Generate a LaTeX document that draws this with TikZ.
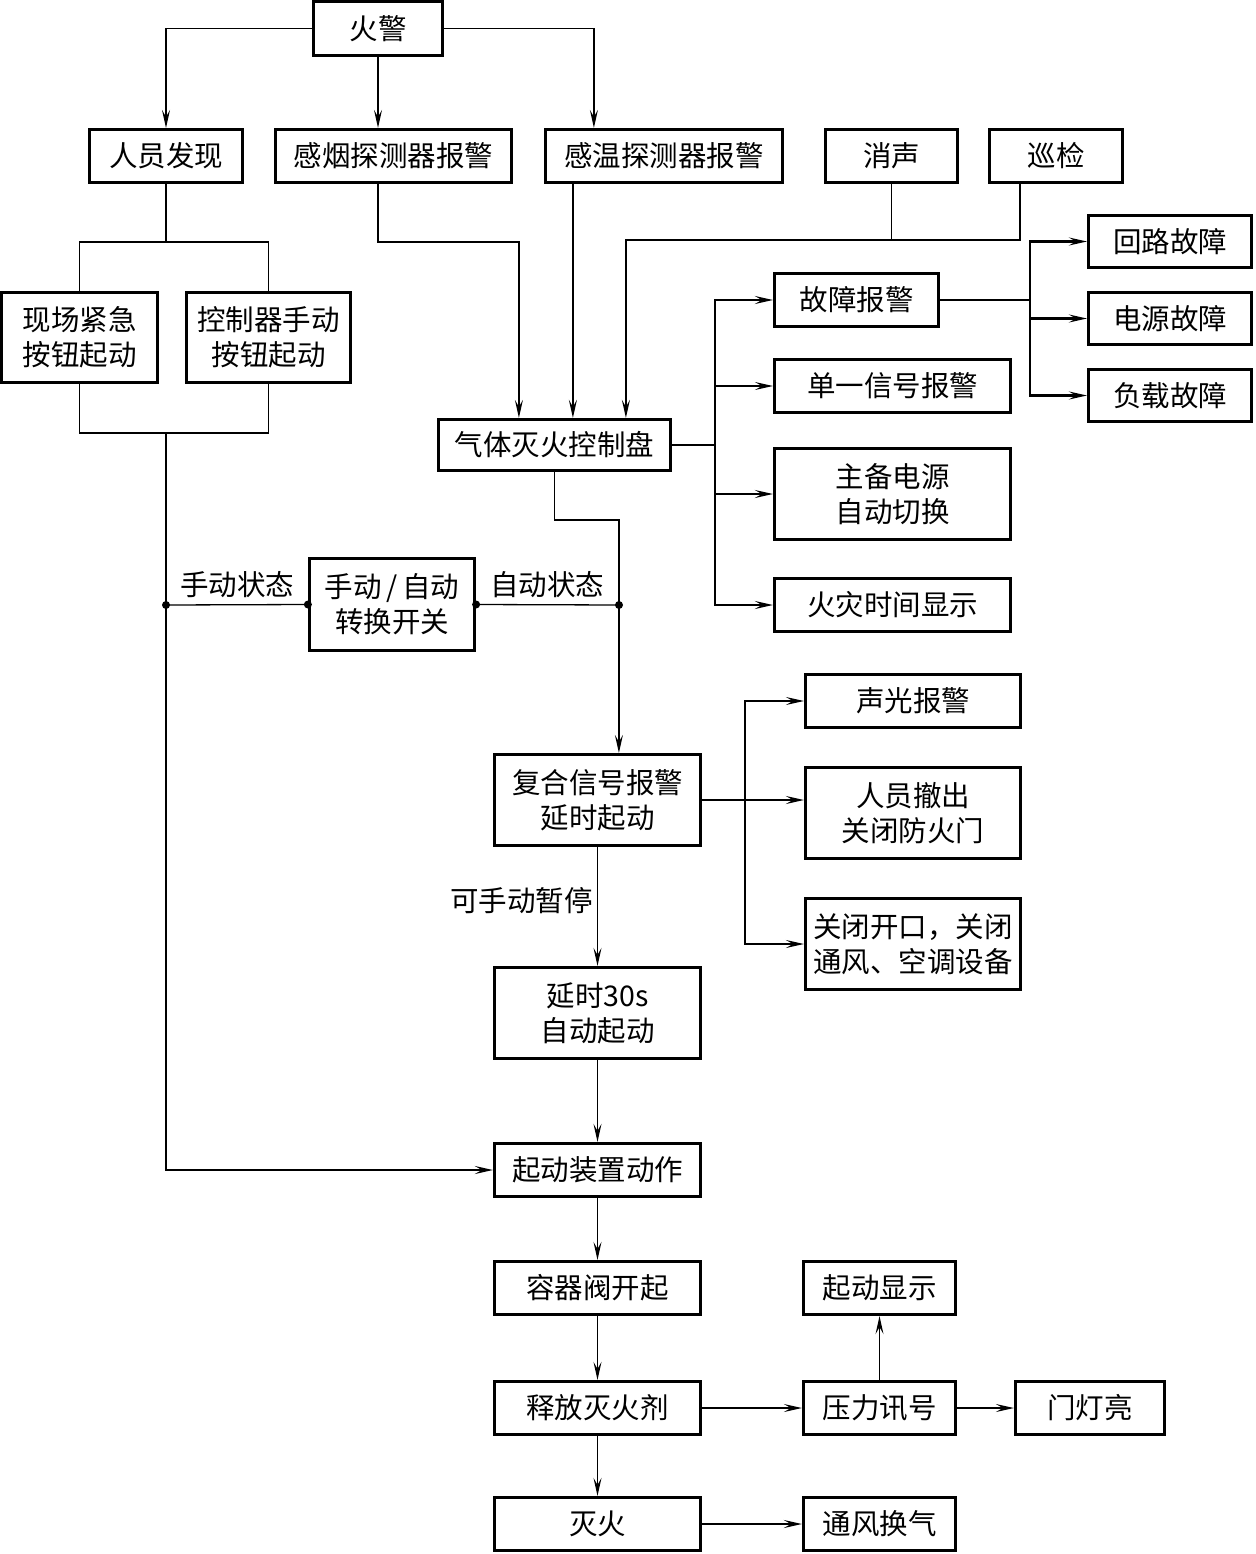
\documentclass[tikz,border=0pt]{standalone}
\usepackage{fontspec}
\setmainfont{Noto Sans CJK SC}
\usetikzlibrary{arrows.meta,calc}
\newcommand\bx[6]{\node[box,minimum width={#4-#2-3},minimum height={#5-#3-3}] (#1) at ({(#2+#4)/2},{-(#3+#5)/2}) {#6};}
\begin{document}
\begin{tikzpicture}[x=1pt,y=1pt,
  box/.style={draw,line width=3.2pt,inner sep=0pt,align=center,font=\fontsize{28.5}{35}\selectfont},
  lbl/.style={inner sep=0pt,font=\fontsize{28.5}{35}\selectfont},
  thin/.style={line width=1.3pt},
  thk/.style={line width=2.2pt},
  arr/.style={-{Stealth[length=18pt,width=8pt,inset=7pt]}},
  dot/.style={circle,fill=black,inner sep=0pt,minimum size=8pt}]
\useasboundingbox (0,0) rectangle (1255,-1554);
% boxes
\bx{hj}{312}{0}{444}{57}{火警}
\bx{ry}{88}{128}{244}{184}{人员发现}
\bx{yg}{274}{128}{513}{184}{感烟探测器报警}
\bx{wg}{544}{128}{784}{184}{感温探测器报警}
\bx{xs}{824}{128}{959}{184}{消声}
\bx{xj}{988}{128}{1124}{184}{巡检}
\bx{hl}{1087}{214}{1253}{269}{回路故障}
\bx{dyg}{1087}{291}{1253}{346}{电源故障}
\bx{fz}{1087}{368}{1253}{423}{负载故障}
\bx{gz}{773}{272}{940}{328}{故障报警}
\bx{dx}{773}{358}{1012}{414}{单一信号报警}
\bx{zb}{773}{447}{1012}{541}{主备电源\\自动切换}
\bx{hz}{773}{577}{1012}{633}{火灾时间显示}
\bx{xc}{0}{291}{159}{384}{现场紧急\\按钮起动}
\bx{kz}{185}{291}{352}{384}{控制器手动\\按钮起动}
\bx{qt}{437}{418}{672}{472}{气体灭火控制盘}
\bx{sw}{308}{557}{476}{652}{手动\,/\,自动\\转换开关}
\bx{fh}{493}{753}{702}{847}{复合信号报警\\延时起动}
\bx{sg}{804}{673}{1022}{729}{声光报警}
\bx{rc}{804}{766}{1022}{860}{人员撤出\\关闭防火门}
\bx{gk}{804}{897}{1022}{991}{关闭开口，关闭\\通风、空调设备}
\bx{ys}{493}{966}{702}{1060}{延时30s\\自动起动}
\bx{qd}{493}{1142}{702}{1198}{起动装置动作}
\bx{rq}{493}{1260}{702}{1316}{容器阀开起}
\bx{qx}{802}{1260}{957}{1316}{起动显示}
\bx{sf}{493}{1380}{702}{1436}{释放灭火剂}
\bx{yl}{802}{1380}{957}{1436}{压力讯号}
\bx{md}{1014}{1380}{1166}{1436}{门灯亮}
\bx{mh}{493}{1496}{702}{1552}{灭火}
\bx{tf}{802}{1496}{957}{1552}{通风换气}
% labels
\node[lbl] (sdzt) at (237,-585) {手动状态};
\node[lbl] (zdzt) at (547,-585) {自动状态};
\node[lbl,anchor=east] (kzt) at (593,-901) {可手动暂停};
% coordinates
\coordinate (j1) at (166,-242);
\coordinate (j2) at (166,-433);
\coordinate (sx) at (891.5,-240);
\coordinate (bv) at (715,0);
\coordinate (bv2) at (1030,0);
\coordinate (bv3) at (745,0);
\coordinate (d1) at (166,-605);
\coordinate (d4) at (619,-605);
% top
\draw[thin,arr] (hj.west) -| (ry.north);
\draw[thin,arr] (hj.south) -- (hj.south |- yg.north);
\draw[thin,arr] (hj.east) -| ([xshift=50]wg.north west);
% people
\draw[thin] (ry.south) -- (j1);
\draw[thin] (xc.north) |- (j1) -| (kz.north);
\draw[thin] (xc.south) |- (j2) -| (kz.south);
\draw[thk,arr] (j2) |- (qd.west);
% detectors
\draw[thin,arr] ([xshift=104]yg.south west) -- ++(0,-58) -| ([xshift=82]qt.north west);
\draw[thk,arr] ([xshift=29]wg.south west) -- ([xshift=136]qt.north west);
\draw[thin] (xs.south) -- (sx);
\draw[thk,arr] ([xshift=32]xj.south west) -- ++(0,-56) -| ([xshift=189]qt.north west);
% control panel outputs
\draw[thin] (qt.east) -- (qt.east -| bv);
\draw[thk,arr] (qt.east -| bv) |- (gz.west);
\draw[thin,arr] (qt.east -| bv) |- (dx.west);
\draw[thk,arr] (qt.east -| bv) |- (zb.west);
\draw[thk,arr] (qt.east -| bv) |- (hz.west);
\draw[thin] (gz.east) -- (gz.east -| bv2);
\draw[thk,arr] (gz.east -| bv2) |- (hl.west);
\draw[thk,arr] (gz.east -| bv2) |- (dyg.west);
\draw[thk,arr] (gz.east -| bv2) |- (fz.west);
% switch
\draw[thin,arr] (qt.south) -- ++(0,-48) -| ([xshift=126]fh.north west);
\draw[thin] (d1) -- (sw.west);
\draw[thin] (sw.east) -- (d4);
\node[dot] at (d1) {};
\node[dot] at (sw.west) {};
\node[dot] at (sw.east) {};
\node[dot] at (d4) {};
% composite alarm outputs
\draw[thk,arr] (fh.east) -- (fh.east -| rc.west);
\draw[thin,arr] (fh.east -| bv3) |- (sg.west);
\draw[thin,arr] (fh.east -| bv3) |- (gk.west);
% main chain
\draw[thin,arr] (fh.south) -- (ys.north);
\draw[thin,arr] (ys.south) -- (qd.north);
\draw[thin,arr] (qd.south) -- (rq.north);
\draw[thin,arr] (rq.south) -- (sf.north);
\draw[thin,arr] (sf.south) -- (mh.north);
\draw[thin,arr] (sf.east) -- (yl.west);
\draw[thin,arr] (yl.north) -- (qx.south);
\draw[thin,arr] (yl.east) -- (md.west);
\draw[thk,arr] (mh.east) -- (tf.west);
\end{tikzpicture}
\end{document}
